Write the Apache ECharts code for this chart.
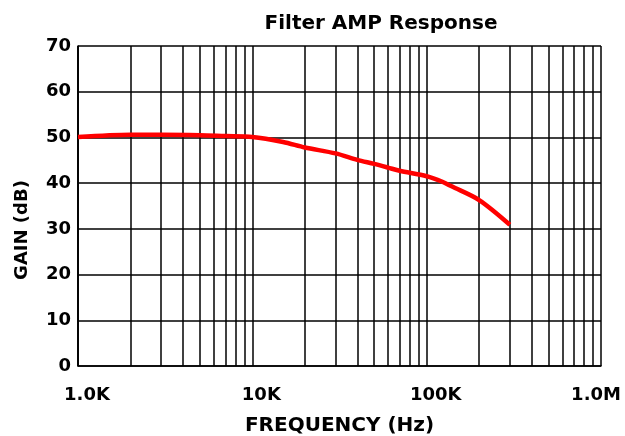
<!DOCTYPE html>
<html>
<head>
<meta charset="utf-8">
<script src="https://cdn.jsdelivr.net/npm/echarts@6/dist/echarts.min.js"></script>
<style>html,body{margin:0;padding:0;background:#fff}#c{width:625px;height:436px}</style>
</head>
<body>
<div id="c"></div>
<script>
var freqHz = [1000, 2000, 3000, 5000, 7000, 10000, 15000, 20000, 30000, 40000, 50000, 60000, 70000, 100000, 123000, 139000, 200000, 300000];
var gainDb = [50.1, 50.6, 50.6, 50.5, 50.3, 50.1, 49.0, 47.8, 46.5, 45.1, 44.2, 43.4, 42.7, 41.5, 40.3, 39.3, 36.3, 30.9];
var xTickLabels = {1000: '1.0K', 10000: '10K', 100000: '100K', 1000000: '1.0M'};
var minorGridHz = [2000,3000,4000,5000,6000,7000,8000,9000,
                   20000,30000,40000,50000,60000,70000,80000,90000,
                   200000,300000,400000,500000,600000,700000,800000,900000];

var chart = echarts.init(document.getElementById('c'), null, {renderer: 'canvas'});
var font = 'DejaVu Sans';
chart.setOption({
  animation: false,
  backgroundColor: '#ffffff',
  title: {
    text: 'Filter AMP Response',
    left: 376, top: 9, textAlign: 'center',
    textStyle: {fontFamily: font, fontWeight: 'bold', fontSize: 20, color: '#000'}
  },
  grid: {left: 78, right: 24, top: 46, bottom: 70, containLabel: false, outerBoundsMode: 'none'},
  xAxis: {
    type: 'log', logBase: 10, min: 1000, max: 1000000,
    name: 'FREQUENCY (Hz)', nameLocation: 'middle', nameGap: 50,
    nameTextStyle: {fontFamily: font, fontWeight: 'bold', fontSize: 20, color: '#000'},
    axisLine: {show: true, lineStyle: {color: '#000', width: 1.5}},
    axisTick: {show: false},
    axisLabel: {
      fontFamily: font, fontWeight: 'bold', fontSize: 18, color: '#000', margin: 20,
      formatter: function (v) {
        var t = xTickLabels[Math.round(v)] || '';
        if (!t) return '';
        return (Math.round(v) === 1000000 ? '{e|' : '{s|') + t + '}';
      },
      rich: {
        s: {fontFamily: font, fontWeight: 'bold', fontSize: 18, color: '#000', padding: [0, 0, 0, 18]},
        e: {fontFamily: font, fontWeight: 'bold', fontSize: 18, color: '#000', padding: [0, 10, 0, 0]}
      }
    },
    splitLine: {show: true, lineStyle: {color: '#000', width: 1.5}}
  },
  yAxis: {
    type: 'value', min: 0, max: 70, interval: 10,
    name: 'GAIN (dB)', nameLocation: 'middle', nameGap: 47, nameRotate: 90,
    nameTextStyle: {fontFamily: font, fontWeight: 'bold', fontSize: 18, color: '#000', padding: [0, 0, 0, -48]},
    axisLine: {show: true, lineStyle: {color: '#000', width: 1.5}},
    axisTick: {show: false},
    axisLabel: {fontFamily: font, fontWeight: 'bold', fontSize: 18, color: '#000', margin: 7},
    splitLine: {show: true, lineStyle: {color: '#000', width: 1.5}}
  },
  series: [
    {
      type: 'line', data: [], silent: true,
      markLine: {
        silent: true, symbol: 'none', animation: false,
        label: {show: false},
        lineStyle: {color: '#000', width: 1.5, type: 'solid'},
        emphasis: {disabled: true},
        data: minorGridHz.map(function (f) { return {xAxis: f}; })
      }
    },
    {
      type: 'line', smooth: 0.3, symbol: 'none',
      lineStyle: {color: '#ff0000', width: 4.5},
      data: freqHz.map(function (f, i) { return [f, gainDb[i]]; }),
      z: 5
    }
  ]
});
</script>
</body>
</html>
